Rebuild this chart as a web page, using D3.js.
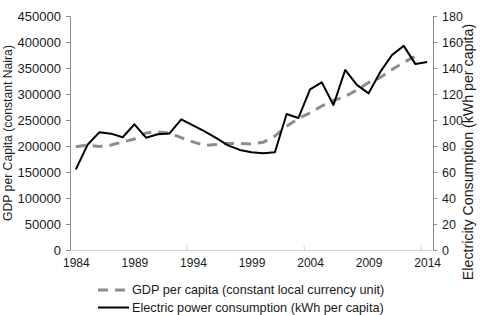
<!DOCTYPE html>
<html>
<head>
<meta charset="utf-8">
<script src="https://cdn.jsdelivr.net/npm/d3@7"></script>
<style>
  body { margin: 0; background: #fff; }
  svg text { font-family: "Liberation Sans", Arial, sans-serif; fill: #1a1a1a; }
</style>
</head>
<body>
<svg id="chart" width="483" height="315"></svg>
<script>
// years on the category axis
const years = d3.range(1984, 2015);
const yearLabels = [1984, 1989, 1994, 1999, 2004, 2009, 2014];

// GDP per capita, constant Naira (no point for 2014)
const gdp = [198600, 202000, 199000, 202000, 207700, 213500, 225000, 227000, 225000, 216000,
             208000, 201000, 203000, 205000, 205000, 204000, 207000, 219000, 238000, 253000,
             263500, 277000, 287500, 295000, 307700, 322000, 331700, 347000, 360600, 373000, null];

// electric power consumption, kWh per capita
const elec = [62, 81, 90.5, 89.5, 86.7, 96.7, 86.4, 89, 89.7, 100.5,
              95.8, 91.2, 86, 80.5, 77, 75.2, 74.5, 75.2, 104.6, 101.5,
              123.6, 129, 111.5, 138.5, 127, 120.5, 137, 150, 157, 143, 144.6];

const gdpTicks = d3.range(0, 450001, 50000);
const elecTicks = d3.range(0, 181, 20);

const AXIS_C = '#8a8a8a';
const GDP_C = '#8c8c8c';

const m = { left: 70, right: 433, top: 16, bottom: 250 };
const svg = d3.select('#chart');

const x = d3.scalePoint().domain(years).range([m.left, m.right]).padding(0.5);
const step = x.step();
const yL = d3.scaleLinear().domain([0, 450000]).range([m.bottom, m.top]);
const yR = d3.scaleLinear().domain([0, 180]).range([m.bottom, m.top]);

// left axis
const gl = svg.append('g').attr('transform', `translate(${m.left},0)`)
  .call(d3.axisLeft(yL).tickValues(gdpTicks).tickSize(4).tickPadding(5).tickFormat(d3.format('d')));
gl.select('.domain').attr('stroke', AXIS_C);
gl.selectAll('.tick line').attr('stroke', AXIS_C);
gl.selectAll('.tick text').attr('font-size', 13).attr('fill', '#1a1a1a');

// right axis
const gr = svg.append('g').attr('transform', `translate(${m.right},0)`)
  .call(d3.axisRight(yR).tickValues(elecTicks).tickSize(4).tickPadding(5));
gr.select('.domain').attr('stroke', AXIS_C);
gr.selectAll('.tick line').attr('stroke', AXIS_C);
gr.selectAll('.tick text').attr('font-size', 12.5).attr('fill', '#1a1a1a');

// bottom axis: labels on categories, tick marks on boundaries every 10
const gb = svg.append('g').attr('transform', `translate(0,${m.bottom})`)
  .call(d3.axisBottom(x).tickValues(yearLabels).tickSize(0).tickPadding(8));
gb.select('.domain').attr('stroke', '#d0d0d0');
gb.selectAll('.tick text').attr('font-size', 12).attr('fill', '#1a1a1a');
gb.selectAll('.bnd').data([1994, 2004, 2014]).join('line')
  .attr('class', 'bnd')
  .attr('x1', d => x(d) - step / 2).attr('x2', d => x(d) - step / 2)
  .attr('y1', 0).attr('y2', -5)
  .attr('stroke', '#d0d0d0');

// axis titles
svg.append('text')
  .attr('transform', `translate(12,${(m.top + m.bottom) / 2}) rotate(-90)`)
  .attr('text-anchor', 'middle').attr('font-size', 12.2)
  .text('GDP per Capita (constant Naira)');
svg.append('text')
  .attr('transform', `translate(473,152) rotate(-90)`)
  .attr('text-anchor', 'middle').attr('font-size', 14.2)
  .text('Electricity Consumption (kWh per capita)');

// lines
const gdpLine = d3.line()
  .defined(d => d != null)
  .x((d, i) => x(years[i]))
  .y(d => yL(d));
svg.append('path').datum(gdp)
  .attr('d', gdpLine)
  .attr('fill', 'none')
  .attr('stroke', GDP_C)
  .attr('stroke-width', 3)
  .attr('stroke-dasharray', '10,7');

const elecLine = d3.line()
  .x((d, i) => x(years[i]))
  .y(d => yR(d));
svg.append('path').datum(elec)
  .attr('d', elecLine)
  .attr('fill', 'none')
  .attr('stroke', '#000')
  .attr('stroke-width', 2)
  .attr('stroke-linejoin', 'round');

// legend
const legend = [
  { label: 'GDP per capita (constant local currency unit)', color: GDP_C, w: 3, dash: '10,7', y: 290 },
  { label: 'Electric power consumption (kWh per capita)', color: '#000', w: 2, dash: null, y: 307.5 }
];
const lg = svg.append('g');
legend.forEach(d => {
  lg.append('line')
    .attr('x1', 98).attr('x2', 129).attr('y1', d.y).attr('y2', d.y)
    .attr('stroke', d.color).attr('stroke-width', d.w)
    .attr('stroke-dasharray', d.dash);
  lg.append('text')
    .attr('x', 132).attr('y', d.y + 4)
    .attr('font-size', 12.7)
    .text(d.label);
});
</script>
</body>
</html>
